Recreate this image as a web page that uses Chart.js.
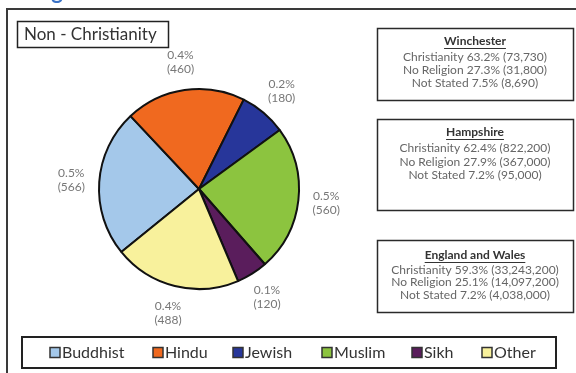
<!DOCTYPE html>
<html>
<head>
<meta charset="utf-8">
<script src="https://cdn.jsdelivr.net/npm/chart.js@4/dist/chart.umd.min.js"></script>
<style>
html,body{margin:0;padding:0;background:#fff;}
canvas{display:block;}
</style>
</head>
<body>
<canvas id="c" width="576" height="373"></canvas>
<script>
// ---- data ----
const categories = ['Buddhist', 'Hindu', 'Jewish', 'Muslim', 'Sikh', 'Other'];
const counts = [566, 460, 180, 560, 120, 488];
const percentLabels = ['0.5%', '0.4%', '0.2%', '0.5%', '0.1%', '0.4%'];
const sliceColors = ['#a4c8ea', '#f0691f', '#27369a', '#8cc43f', '#5a1d5c', '#f8f19c'];
const chartTitle = 'Non - Christianity';
const pageHeading = 'Religion';
const areaNames = ['Winchester', 'Hampshire', 'England and Wales'];
const christianityLines = ['Christianity 63.2% (73,730)', 'Christianity 62.4% (822,200)', 'Christianity 59.3% (33,243,200)'];
const noReligionLines = ['No Religion 27.3% (31,800)', 'No Religion 27.9% (367,000)', 'No Religion 25.1% (14,097,200)'];
const notStatedLines = ['Not Stated 7.5% (8,690)', 'Not Stated 7.2% (95,000)', 'Not Stated 7.2% (4,038,000)'];

const FONT = 'Lato, "Open Sans", sans-serif';

const decorPlugin = {
  id: 'decor',
  beforeDraw(chart) {
    const ctx = chart.ctx;
    ctx.save();
    ctx.fillStyle = '#fff';
    ctx.fillRect(0, 0, chart.width, chart.height);
    // heading (cropped at top)
    ctx.fillStyle = '#3a72c6';
    ctx.font = 'bold 22px ' + FONT;
    ctx.textBaseline = 'alphabetic';
    ctx.textAlign = 'left';
    ctx.fillText(pageHeading, 15, -1);
    // outer frame
    ctx.strokeStyle = '#3a3a3a';
    ctx.lineWidth = 2;
    ctx.strokeRect(7, 9, 600, 400);
    // title box
    ctx.strokeStyle = '#222';
    ctx.lineWidth = 1.5;
    ctx.strokeRect(17.5, 21.5, 151, 26);
    ctx.fillStyle = '#333';
    ctx.font = '17px ' + FONT;
    ctx.textBaseline = 'middle';
    ctx.fillText(chartTitle, 24, 35);
    // info boxes
    const boxes = [[28, 100], [119, 210], [240, 312]];
    const lineOffsets = [[13, 29, 42, 55], [13, 29, 43, 56], [15, 30, 42.5, 55]];
    boxes.forEach((b, i) => {
      const x0 = 377, x1 = 573;
      ctx.strokeStyle = '#2a2a2a';
      ctx.lineWidth = 1.5;
      ctx.strokeRect(x0 + 0.5, b[0] + 0.5, x1 - x0, b[1] - b[0]);
      const cx = (x0 + x1) / 2;
      ctx.textAlign = 'center';
      ctx.textBaseline = 'middle';
      ctx.fillStyle = '#333';
      ctx.font = 'bold 12px ' + FONT;
      const ty = b[0] + lineOffsets[i][0];
      ctx.fillText(areaNames[i], cx, ty);
      const w = ctx.measureText(areaNames[i]).width;
      ctx.strokeStyle = '#333';
      ctx.lineWidth = 1;
      ctx.beginPath();
      ctx.moveTo(cx - w / 2, ty + 7.5);
      ctx.lineTo(cx + w / 2, ty + 7.5);
      ctx.stroke();
      ctx.fillStyle = '#666';
      ctx.font = '12px ' + FONT;
      ctx.fillText(christianityLines[i], cx, b[0] + lineOffsets[i][1]);
      ctx.fillText(noReligionLines[i], cx, b[0] + lineOffsets[i][2]);
      ctx.fillText(notStatedLines[i], cx, b[0] + lineOffsets[i][3]);
    });
    ctx.restore();
  },
  afterDatasetsDraw(chart) {
    const ctx = chart.ctx;
    const meta = chart.getDatasetMeta(0);
    ctx.save();
    ctx.fillStyle = '#777';
    ctx.font = '12px ' + FONT;
    ctx.textAlign = 'center';
    ctx.textBaseline = 'middle';
    meta.data.forEach((arc, i) => {
      const p = arc.getProps(['x', 'y', 'startAngle', 'endAngle', 'outerRadius'], true);
      const mid = (p.startAngle + p.endAngle) / 2;
      const r = p.outerRadius + 28;
      const lx = p.x + Math.cos(mid) * r;
      const ly = p.y + Math.sin(mid) * r;
      ctx.fillText(percentLabels[i], lx, ly - 7);
      ctx.fillText('(' + counts[i] + ')', lx, ly + 7);
    });
    // legend
    const top = 337, bottom = 368;
    ctx.strokeStyle = '#222';
    ctx.lineWidth = 2;
    ctx.strokeRect(22, top, 534, bottom - top);
    const xs = [50, 153, 233, 322, 412, 482];
    ctx.font = '16px ' + FONT;
    ctx.textAlign = 'left';
    const cy = (top + bottom) / 2;
    categories.forEach((c, i) => {
      const x = xs[i];
      ctx.fillStyle = sliceColors[i];
      ctx.fillRect(x, cy - 5, 10, 10);
      ctx.strokeStyle = '#333';
      ctx.lineWidth = 1.5;
      ctx.strokeRect(x, cy - 5, 10, 10);
      ctx.fillStyle = '#333';
      ctx.fillText(c, x + 12, cy);
    });
    ctx.restore();
  }
};

new Chart(document.getElementById('c'), {
  type: 'pie',
  data: {
    labels: categories,
    datasets: [{
      data: counts,
      backgroundColor: sliceColors,
      borderColor: '#111',
      borderWidth: 2
    }]
  },
  options: {
    responsive: false,
    animation: false,
    rotation: -129,
    radius: 100,
    layout: { padding: { left: 99, right: 277, top: 89, bottom: 84 } },
    plugins: {
      legend: { display: false },
      tooltip: { enabled: false },
      title: { display: false }
    }
  },
  plugins: [decorPlugin]
});
</script>
</body>
</html>
